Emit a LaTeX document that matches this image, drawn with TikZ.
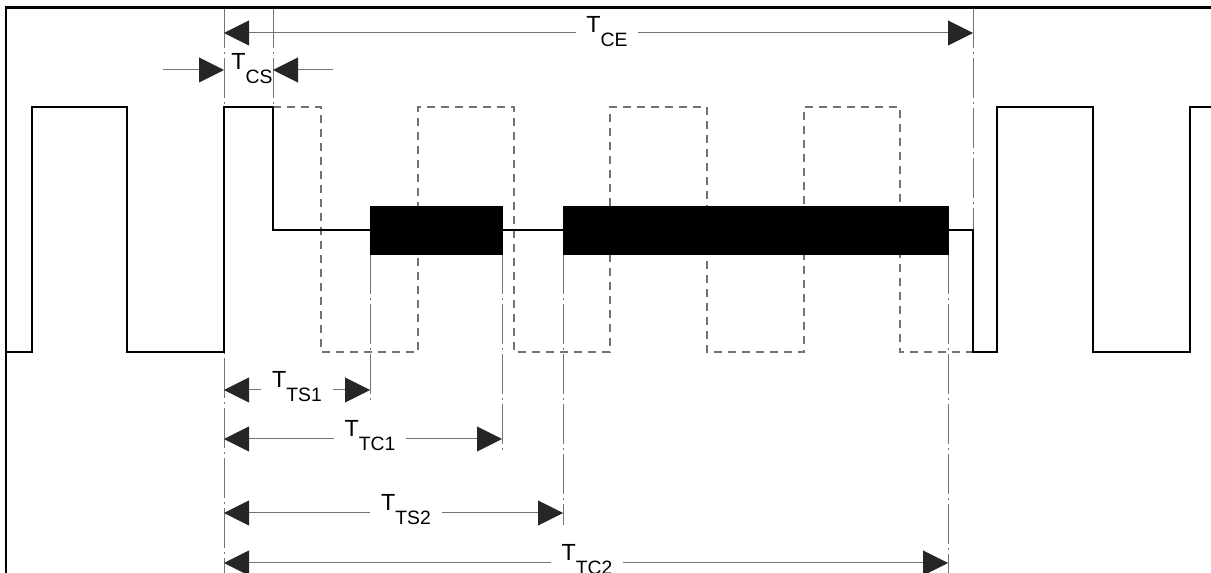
\documentclass[tikz,border=0pt]{standalone}
\usepackage{fontspec}
\setmainfont{Liberation Sans}
\usetikzlibrary{arrows.meta}
\newcommand\tlbl[1]{T\raisebox{-10.5pt}{\fontsize{14.5}{15}\selectfont #1}}
\begin{document}
\begin{tikzpicture}[x=0.75pt,y=-0.75pt,
  wave/.style={line width=1.6pt, black, line join=miter},
  ghost/.style={line width=1pt, black!55, dash pattern=on 6pt off 4.5pt},
  guide/.style={line width=0.75pt, black!55, dash pattern=on 30pt off 3pt on 1.5pt off 3pt},
  dim/.style={line width=0.75pt, black!55, -{Triangle[length=18.75pt,width=18.75pt,color=black!85]}},
  lab/.style={font=\fontsize{17.5}{19}\selectfont, inner xsep=8pt, inner ysep=0pt, anchor=base},
  burst/.style={fill=black, draw=black, line width=0.5pt}]
\useasboundingbox (0,0) rectangle (1211,573);

% ghost (dashed) clock
\draw[ghost] (273,107) -- (321,107) -- (321,352) -- (418,352) -- (418,107) -- (514,107)
  -- (514,352) -- (610,352) -- (610,107) -- (707,107) -- (707,352) -- (804,352)
  -- (804,107) -- (900,107) -- (900,352) -- (973,352);

% guide lines
\draw[guide] (224,8) -- (224,573);
\draw[guide] (273,8) -- (273,107);
\draw[guide] (370,254) -- (370,402);
\draw[guide] (502,254) -- (502,452);
\draw[guide] (563,254) -- (563,525);
\draw[guide] (948,254) -- (948,573);
\draw[guide] (973,8) -- (973,230);

% solid waveform
\draw[wave] (6,352) -- (32,352) -- (32,107) -- (127,107) -- (127,352) -- (224,352)
  -- (224,107) -- (273,107) -- (273,230) -- (973,230) -- (973,352) -- (997,352)
  -- (997,107) -- (1093,107) -- (1093,352) -- (1190,352) -- (1190,107) -- (1211,107);

% data bursts
\draw[burst] (370,206) rectangle (502,254);
\draw[burst] (563,206) rectangle (948,254);

% T_CE
\coordinate (ceL) at (224,33);
\coordinate (ceR) at (973,33);
\node[lab] (lce) at (607,33) {\tlbl{CE}};
\draw[dim] (lce.west |- ceL) -- (ceL);
\draw[dim] (lce.east |- ceR) -- (ceR);

% T_CS
\coordinate (csL) at (224,70);
\coordinate (csR) at (273,70);
\coordinate (csLo) at (163,70);
\coordinate (csRo) at (333,70);
\node[lab, inner xsep=0pt] (lcs) at (252,70) {\tlbl{CS}};
\draw[dim] (csLo) -- (csL);
\draw[dim] (csRo) -- (csR);

% T_TS1
\coordinate (ts1L) at (224,390);
\coordinate (ts1R) at (370,390);
\node[lab] (lts1) at (297,388) {\tlbl{TS1}};
\draw[dim] (lts1.west |- ts1L) -- (ts1L);
\draw[dim] (lts1.east |- ts1R) -- (ts1R);

% T_TC1
\coordinate (tc1L) at (224,439);
\coordinate (tc1R) at (502,439);
\node[lab] (ltc1) at (370,437) {\tlbl{TC1}};
\draw[dim] (ltc1.west |- tc1L) -- (tc1L);
\draw[dim] (ltc1.east |- tc1R) -- (tc1R);

% T_TS2
\coordinate (ts2L) at (224,513);
\coordinate (ts2R) at (563,513);
\node[lab] (lts2) at (406,511) {\tlbl{TS2}};
\draw[dim] (lts2.west |- ts2L) -- (ts2L);
\draw[dim] (lts2.east |- ts2R) -- (ts2R);

% T_TC2
\coordinate (tc2L) at (224,563);
\coordinate (tc2R) at (948,563);
\node[lab] (ltc2) at (587,561) {\tlbl{TC2}};
\draw[dim] (ltc2.west |- tc2L) -- (tc2L);
\draw[dim] (ltc2.east |- tc2R) -- (tc2R);

% frame
\draw[line width=2pt] (6,573) -- (6,7.5) -- (1211,7.5);
\end{tikzpicture}
\end{document}
